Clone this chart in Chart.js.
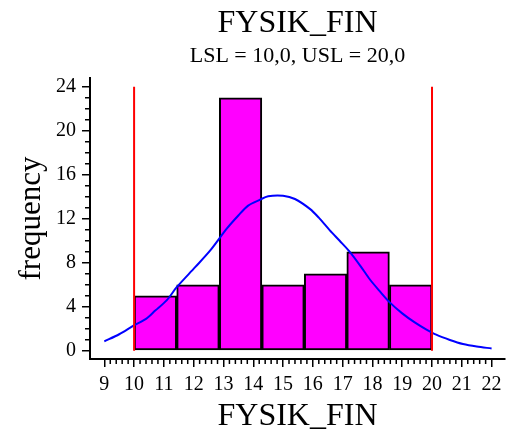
<!DOCTYPE html>
<html>
<head>
<meta charset="utf-8">
<script src="https://cdn.jsdelivr.net/npm/chart.js@4.4.1/dist/chart.umd.min.js"></script>
<style>
  html, body { margin: 0; padding: 0; background: #fff; }
  #wrap { width: 513px; height: 434px; }
</style>
</head>
<body>
<div id="wrap"><canvas id="chart"></canvas></div>
<script>
// histogram bins (7 classes between LSL and USL)
const binEdges = [10, 11.43, 12.86, 14.29, 15.71, 17.14, 18.57, 20];
const binCounts = [5, 6, 23, 6, 7, 9, 6];

// fitted normal curve
const curveX = [9.0, 9.5, 9.98, 10.4, 10.71, 11.1, 11.43, 12.05, 12.55, 13.11, 13.5, 13.83, 14.2, 14.5, 15.0, 15.4, 15.9, 16.2, 16.57, 16.9, 17.22, 17.6, 17.91, 18.25, 18.58, 19.0, 19.42, 19.8, 20.14, 20.6, 21.04, 21.5, 22.0];
const curveY = [0.85, 1.5, 2.28, 2.9, 3.65, 4.6, 5.78, 7.6, 9.1, 11.1, 12.3, 13.2, 13.7, 14.05, 14.1, 13.8, 12.9, 12.1, 10.95, 10.0, 9.06, 7.7, 6.5, 5.4, 4.4, 3.4, 2.58, 1.95, 1.46, 0.98, 0.61, 0.38, 0.21];

// spec limits
const LSL = 10;
const USL = 20;
const limitTop = 24;

// axis ticks
const xTicks = [9, 10, 11, 12, 13, 14, 15, 16, 17, 18, 19, 20, 21, 22];
const yTicks = [0, 4, 8, 12, 16, 20, 24];

const serif = "'Liberation Serif', 'Times New Roman', serif";

const barData = binCounts.map((c, i) => ({ x: (binEdges[i] + binEdges[i + 1]) / 2, y: c }));
const curveData = curveX.map((x, i) => ({ x: x, y: curveY[i] }));

// minor tick marks on both axes
const minorTicks = {
  id: 'minorTicks',
  afterDraw(chart) {
    const { ctx, chartArea, scales: { x, y } } = chart;
    ctx.save();
    ctx.strokeStyle = '#000';
    ctx.lineWidth = 1.5;
    ctx.beginPath();
    const x0 = xTicks[0], n = (xTicks[xTicks.length - 1] - x0) * 5;
    for (let i = 0; i <= n; i++) {
      if (i % 5 === 0) continue;
      const px = x.getPixelForValue(x0 + i * 0.2);
      ctx.moveTo(px, chartArea.bottom);
      ctx.lineTo(px, chartArea.bottom + 5);
    }
    for (let v = yTicks[0]; v <= yTicks[yTicks.length - 1]; v++) {
      if (v % 4 === 0) continue;
      const py = y.getPixelForValue(v);
      ctx.moveTo(chartArea.left, py);
      ctx.lineTo(chartArea.left - 5, py);
    }
    ctx.stroke();
    ctx.restore();
  }
};

new Chart(document.getElementById('chart'), {
  type: 'bar',
  data: {
    datasets: [
      {
        type: 'line',
        data: [{ x: LSL, y: 0 }, { x: LSL, y: limitTop }],
        borderColor: '#ff0000',
        borderWidth: 2,
        pointRadius: 0,
        order: 1
      },
      {
        type: 'line',
        data: [{ x: USL, y: 0 }, { x: USL, y: limitTop }],
        borderColor: '#ff0000',
        borderWidth: 2,
        pointRadius: 0,
        order: 1
      },
      {
        type: 'line',
        data: curveData,
        borderColor: '#0000ff',
        borderWidth: 2,
        pointRadius: 0,
        tension: 0.3,
        order: 2
      },
      {
        data: barData,
        backgroundColor: '#ff00ff',
        borderColor: '#000',
        borderWidth: 2,
        borderSkipped: false,
        barThickness: 'flex',
        barPercentage: 1,
        categoryPercentage: 1,
        order: 3
      }
    ]
  },
  options: {
    responsive: true,
    maintainAspectRatio: false,
    animation: false,
    layout: { padding: { right: 8 } },
    plugins: {
      legend: { display: false },
      tooltip: { enabled: false },
      title: {
        display: true,
        text: 'FYSIK_FIN',
        fullSize: false,
        color: '#000',
        font: { family: serif, size: 32, weight: 'normal', lineHeight: 1 },
        padding: { top: 8, bottom: 0 }
      },
      subtitle: {
        display: true,
        text: 'LSL = 10,0, USL = 20,0',
        fullSize: false,
        color: '#000',
        font: { family: serif, size: 22, weight: 'normal', lineHeight: 1 },
        padding: { top: 5, bottom: 11 }
      }
    },
    scales: {
      x: {
        type: 'linear',
        offset: false,
        min: 8.52,
        max: 22.45,
        afterBuildTicks: (s) => { s.ticks = xTicks.map(v => ({ value: v })); },
        afterFit: (s) => { s.height = 75; },
        border: { display: true, color: '#000', width: 2 },
        grid: { offset: false, drawOnChartArea: false, color: '#000', lineWidth: 1.5, tickLength: 8 },
        ticks: { color: '#000', padding: 6, maxRotation: 0, autoSkip: false, font: { family: serif, size: 20 } },
        title: {
          display: true,
          text: 'FYSIK_FIN',
          color: '#000',
          font: { family: serif, size: 32, lineHeight: 1 },
          padding: { top: 0, bottom: 1 }
        }
      },
      y: {
        type: 'linear',
        min: -0.75,
        max: 24.8,
        afterBuildTicks: (s) => { s.ticks = yTicks.map(v => ({ value: v })); },
        afterFit: (s) => { s.width = 90; },
        border: { display: true, color: '#000', width: 2 },
        grid: { drawOnChartArea: false, color: '#000', lineWidth: 1.5, tickLength: 8 },
        ticks: { color: '#000', padding: 6, font: { family: serif, size: 20 } },
        title: {
          display: true,
          text: 'frequency',
          color: '#000',
          font: { family: serif, size: 31, lineHeight: 1 },
          padding: { top: 16, bottom: 0 }
        }
      }
    }
  },
  plugins: [minorTicks]
});
</script>
</body>
</html>
